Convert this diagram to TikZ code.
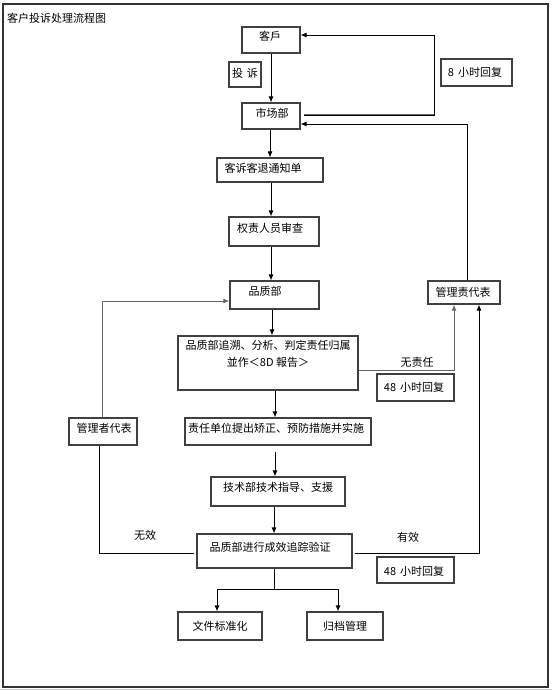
\documentclass[tikz,border=0pt]{standalone}
\usepackage{fontspec}
\newfontfamily\cjk{Noto Sans CJK SC}
\usetikzlibrary{arrows.meta}
\newcommand\mv[3]{\raisebox{#2}[\height][\depth]{\hspace*{#1}#3}}
\begin{document}
\begin{tikzpicture}[x=1pt,y=-1pt,
  box/.style={draw=black!75,line width=1.2pt,inner sep=0pt,font=\cjk\fontsize{11pt}{17pt}\selectfont},
  txt/.style={font=\cjk\fontsize{11pt}{17pt}\selectfont,inner sep=0pt},
  ln/.style={draw=black,line width=0.8pt},
  gln/.style={draw=black!60,line width=1pt},
  arr/.style={ln,-{Latex[length=6pt,width=5pt]}},
  garr/.style={gln,-{Latex[length=6pt,width=5pt]}}]
\useasboundingbox (0,0) rectangle (552,690);
\draw[black!80,line width=1.5pt] (3,4) rectangle (548,687);
\draw[black!20,line width=1pt] (0,689.5) -- (552,689.5);
\node[txt,anchor=west] (title) at (7,18) {客户投诉处理流程图};

% boxes
\node[box,minimum width=58pt,minimum height=26pt] (kh) at (271,40) {\mv{-2pt}{4pt}{客戶}};
\node[box,minimum width=32pt,minimum height=25pt] (ts) at (245,74.5) {\mv{0pt}{1.5pt}{投\hspace{4pt}诉}};
\node[box,minimum width=58pt,minimum height=26pt] (sc) at (271,116) {\mv{2pt}{3pt}{市场部}};
\node[box,minimum width=106pt,minimum height=24pt] (kt) at (270,170) {\mv{-14pt}{2pt}{客诉客退通知单}};
\node[box,minimum width=90pt,minimum height=29pt] (qz) at (274,231.5) {\mv{-8pt}{3.5pt}{权责人员审查}};
\node[box,minimum width=89pt,minimum height=28pt] (pz) at (274.5,295) {\mv{-19pt}{4pt}{品质部}};
\node[box,minimum width=180pt,minimum height=54pt] (zs) at (268,363) {\raisebox{8.5pt}[\height][\depth]{\begin{tabular}{@{}c@{}}品质部追溯、分析、判定责任归属\\並作＜8D 報告＞\end{tabular}}};
\node[box,minimum width=186pt,minimum height=27pt] (zr) at (278,431.5) {\mv{-4pt}{3.5pt}{责任单位提出矫正、预防措施并实施}};
\node[box,minimum width=134pt,minimum height=29pt] (js) at (278,491.5) {\mv{0pt}{4.5pt}{技术部技术指导、支援}};
\node[box,minimum width=155pt,minimum height=34pt] (xy) at (274.5,551) {\mv{-9pt}{4pt}{品质部进行成效追踪验证}};
\node[box,minimum width=84pt,minimum height=28pt] (wj) at (220,626) {文件标准化};
\node[box,minimum width=76pt,minimum height=28pt] (gd) at (345,626) {归档管理};
\node[box,minimum width=68pt,minimum height=27pt] (gl) at (103,431.5) {\mv{2pt}{3.5pt}{管理者代表}};
\node[box,minimum width=72pt,minimum height=23pt] (gz) at (464,292.5) {\mv{-2pt}{0.5pt}{管理责代表}};
\node[box,minimum width=71pt,minimum height=27pt] (h8) at (476.5,72.5) {\mv{-3pt}{0pt}{8\hspace{4pt}小时回复}};
\node[box,minimum width=77pt,minimum height=27pt] (ha) at (415.5,387.5) {\mv{-3pt}{0pt}{48\hspace{4pt}小时回复}};
\node[box,minimum width=77pt,minimum height=26pt] (hb) at (415.5,570) {\mv{-3pt}{-1pt}{48\hspace{4pt}小时回复}};

% labels
\node[txt] (lwz) at (417,362) {无责任};
\node[txt] (lwx) at (145,535) {无效};
\node[txt] (lyx) at (408,537) {有效};

% main flow
\draw[arr] (kh.south) -- (sc.north);
\draw[arr] ([xshift=-1pt]sc.south) -- ([xshift=-1pt]sc.south |- kt.north);
\draw[arr] ([xshift=1pt]kt.south) -- ([xshift=1pt]kt.south |- qz.north);
\draw[arr] ([xshift=-3pt]qz.south) -- ([xshift=-3pt]qz.south |- pz.north);
\draw[arr] ([xshift=-2.5pt]pz.south) -- ([xshift=-2.5pt]pz.south |- zs.north);
\draw[arr] ([xshift=7pt]zs.south) -- ([xshift=7pt]zs.south |- zr.north);
\draw[arr] ([xshift=-3pt,yshift=-6pt]zr.south) -- ([xshift=-3pt]zr.south |- js.north);
\draw[arr] ([xshift=-4pt]js.south) -- ([xshift=-4pt]js.south |- xy.north);
\draw[arr] ([xshift=-0.5pt]xy.south) -- (274,589) -| ([xshift=-3pt]wj.north);
\draw[arr] (274,589) -| ([xshift=-7pt]gd.north);

% feedback loops
\draw[arr] ([xshift=3pt,yshift=1pt]sc.east) -- (434,115) -- (434,35) -- ([yshift=5pt]kh.east);
\draw[gln] ([xshift=3pt,yshift=1pt]sc.east) -- (433.5,115);
\draw[arr] ([xshift=3pt]gz.north) -- (467,124) -- ([yshift=-8pt]sc.east);
\draw[garr] ([yshift=-7pt]zs.east) -| ([xshift=-10pt]gz.south);
\draw[arr] ([xshift=2pt,yshift=-2pt]xy.east) -| ([xshift=15pt]gz.south);
\draw[ln] ([xshift=-2pt,yshift=-2pt]xy.west) -| ([xshift=-4pt]gl.south);
\draw[garr] ([xshift=-1pt]gl.north) |- ([yshift=-6pt]pz.west);
\end{tikzpicture}
\end{document}
